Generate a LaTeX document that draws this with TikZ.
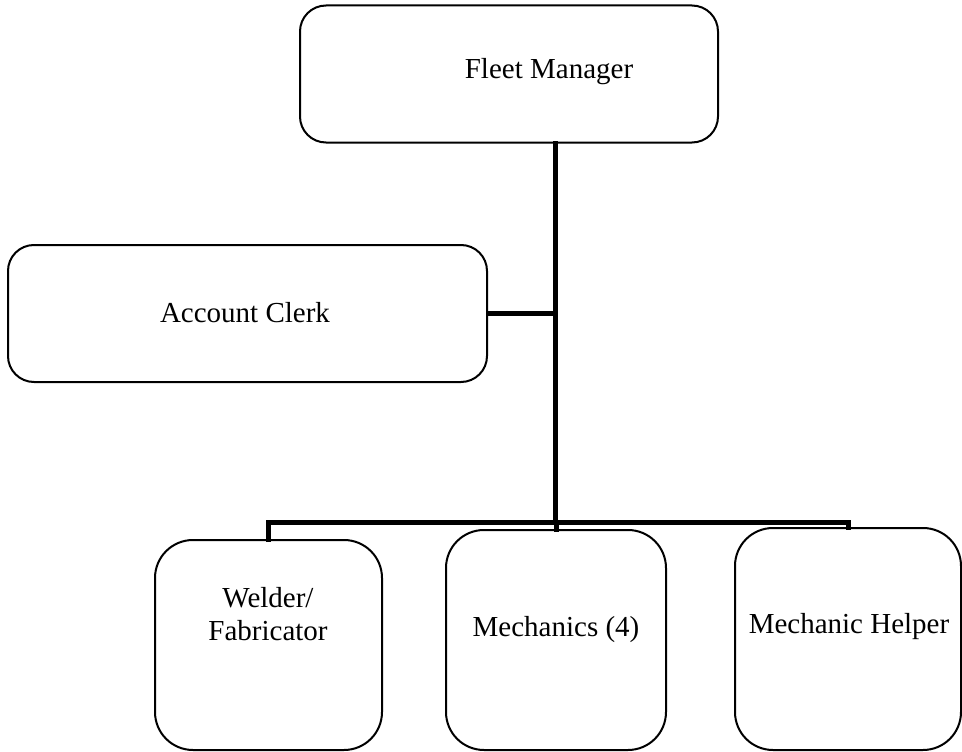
\documentclass[tikz,border=0pt]{standalone}
\usepackage{fontspec}
\setmainfont{Liberation Serif}
\begin{document}
\begin{tikzpicture}[x=1pt,y=-1pt,
  box/.style={draw=black,line width=2pt,rounded corners=#1,inner sep=0pt},
  box/.default=26pt,
  lbl/.style={font=\fontsize{29}{33}\selectfont,align=center,inner sep=0pt},
  link/.style={line width=5pt,line cap=rect,line join=miter}]
\useasboundingbox (0,0) rectangle (962,752);

% boxes
\node[box,minimum width=418pt,minimum height=137pt] (fm) at (509,74) {};
\node[box,minimum width=479pt,minimum height=137pt] (clerk) at (247.5,313.5) {};
\node[box=38pt,minimum width=227pt,minimum height=210pt] (welder) at (268.5,645) {};
\node[box=38pt,minimum width=220pt,minimum height=220pt] (mech) at (556,640) {};
\node[box=38pt,minimum width=226pt,minimum height=222pt] (helper) at (848,639) {};

% labels
\node[lbl] (fmtext) at (549,72) {Fleet Manager};
\node[lbl] (clerktext) at (245,313) {Account Clerk};
\node[lbl] (weldertext) at (268,614) {Welder/\\Fabricator};
\node[lbl] (mechtext) at (556,630) {Mechanics (4)};
\node[lbl] (helpertext) at (849,627) {Mechanic Helper};

% connectors
\coordinate (bus) at (555,522);
\draw[link] (fm.south -| bus) -- (bus);
\draw[link] (clerk.east) -- (clerk.east -| bus);
\draw[link] (welder.north) -- (welder.north |- bus) -- (helper.north |- bus) -- (helper.north);
\draw[link] (mech.north) -- (mech.north |- bus);
\end{tikzpicture}
\end{document}
